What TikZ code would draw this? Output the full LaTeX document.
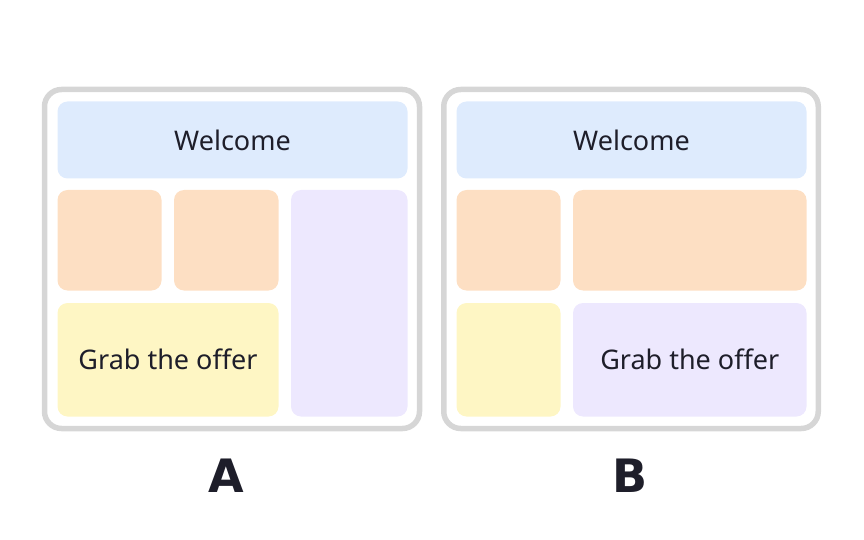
\documentclass[tikz,border=0pt]{standalone}
\usepackage{fontspec}
\setmainfont{Noto Sans}
\newfontfamily\captionfont{DejaVu Sans}
\definecolor{framegray}{RGB}{214,214,214}
\definecolor{tileblue}{RGB}{222,235,253}
\definecolor{tileorange}{RGB}{253,223,195}
\definecolor{tileyellow}{RGB}{254,246,196}
\definecolor{tilepurple}{RGB}{237,232,254}
\definecolor{inkdark}{RGB}{30,30,42}
\tikzset{
	frame/.style={draw=framegray, line width=5.5pt, rounded corners=17pt, inner sep=0pt},
	tile/.style={rounded corners=10pt, inner sep=0pt, text=inkdark, font=\fontsize{27}{31}\selectfont},
	caption/.style={text=inkdark, font=\captionfont\fontsize{46}{50}\selectfont\bfseries}
}

\begin{document}
\begin{tikzpicture}[x=1pt, y=-1pt]

	\useasboundingbox (0, 0) rectangle (864, 540);

	% layout A
	\node[frame, minimum width=375pt, minimum height=339pt] (frameA) at (232, 259) {};
	\node[tile, fill=tileblue, minimum width=350pt, minimum height=77pt] (welcomeA) at (232.5, 140) {Welcome};
	\node[tile, fill=tileorange, minimum width=104pt, minimum height=100.5pt] (orangeA1) at (109.5, 240.25) {};
	\node[tile, fill=tileorange, minimum width=104.5pt, minimum height=100.5pt] (orangeA2) at (226.25, 240.25) {};
	\node[tile, fill=tilepurple, minimum width=116.5pt, minimum height=226.5pt] (purpleA) at (349.25, 303.25) {};
	\node[tile, fill=tileyellow, minimum width=221pt, minimum height=113.5pt] (offerA) at (168, 359.75) {Grab the offer};
	\node[caption] (labelA) at (226, 476) {A};

	% layout B
	\node[frame, minimum width=374.5pt, minimum height=339pt] (frameB) at (631, 259) {};
	\node[tile, fill=tileblue, minimum width=350pt, minimum height=77pt] (welcomeB) at (631.5, 140) {Welcome};
	\node[tile, fill=tileorange, minimum width=104pt, minimum height=100.5pt] (orangeB1) at (508.5, 240.25) {};
	\node[tile, fill=tileorange, minimum width=233.5pt, minimum height=100.5pt] (orangeB2) at (689.75, 240.25) {};
	\node[tile, fill=tileyellow, minimum width=104pt, minimum height=113.5pt] (yellowB) at (508.5, 359.75) {};
	\node[tile, fill=tilepurple, minimum width=233.5pt, minimum height=113.5pt] (offerB) at (689.75, 359.75) {Grab the offer};
	\node[caption] (labelB) at (630, 476) {B};

\end{tikzpicture}
\end{document}
